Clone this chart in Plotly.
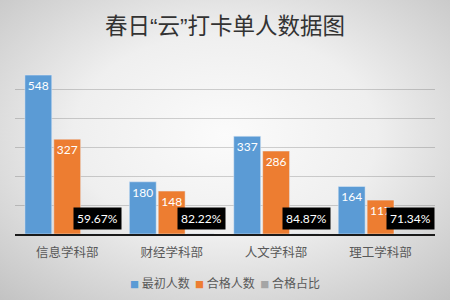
import base64
import plotly.graph_objects as go

# Data
departments = ["信息学科部", "财经学科部", "人文学科部", "理工学科部"]
initial_counts = [548, 180, 337, 164]
qualified_counts = [327, 148, 286, 117]
qualified_ratio = [0.5967, 0.8222, 0.8487, 0.7134]

series_names = ["最初人数", "合格人数", "合格占比"]
colors = ["#5b9bd5", "#ed7d31", "#a5a5a5"]

W, H = 450, 300
ML, MR, MT, MB = 15, 15, 60, 66
BARGAP, GROUPGAP = 0.17, 0.07

fig = go.Figure()
fig.add_bar(
    x=departments, y=initial_counts, name=series_names[0],
    marker_color=colors[0],
    text=[str(v) for v in initial_counts], textposition="inside",
    insidetextanchor="end", textangle=0,
    textfont=dict(color="white", size=12, family="Lato"),
)
fig.add_bar(
    x=departments, y=qualified_counts, name=series_names[1],
    marker_color=colors[1],
    text=[str(v) for v in qualified_counts], textposition="inside",
    insidetextanchor="end", textangle=0,
    textfont=dict(color="white", size=12, family="Lato"),
)
fig.add_bar(
    x=departments, y=qualified_ratio, name=series_names[2],
    marker_color=colors[2], hoverinfo="skip",
)

# Percentage labels in black boxes above the third bar of each group
slot = (1 - BARGAP) / 3
for i, r in enumerate(qualified_ratio):
    fig.add_annotation(
        x=i + slot + 0.01, y=r, xref="x", yref="y",
        text=f"{r * 100:.2f}%", showarrow=False,
        yanchor="bottom", yshift=4,
        font=dict(color="white", size=12, family="Lato"),
        bgcolor="black", borderpad=3,
    )

# Compact legend row: small coloured squares followed by series names
legend_html = "  ".join(
    f'<span style="color:{c};font-size:9px">■</span> {n}'
    for n, c in zip(series_names, colors)
)
fig.add_annotation(
    x=0.5, y=-(282 - (H - MB)) / (H - MT - MB), xref="paper", yref="paper",
    xanchor="center", yanchor="middle", showarrow=False,
    text=legend_html,
    font=dict(family="Noto Sans CJK SC", size=12, color="#595959"),
)

# Soft radial background
svg = (
    f'<svg xmlns="http://www.w3.org/2000/svg" width="{W}" height="{H}">'
    '<defs><radialGradient id="g" cx="50%" cy="45%" r="75%">'
    '<stop offset="0%" stop-color="#fbfbfb"/>'
    '<stop offset="45%" stop-color="#efefef"/>'
    '<stop offset="100%" stop-color="#c2c2c2"/>'
    '</radialGradient></defs>'
    f'<rect width="{W}" height="{H}" fill="url(#g)"/></svg>'
)
src = "data:image/svg+xml;base64," + base64.b64encode(svg.encode()).decode()
pw, ph = W - ML - MR, H - MT - MB
fig.add_layout_image(
    source=src, xref="paper", yref="paper",
    x=-ML / pw, y=1 + MT / ph, sizex=W / pw, sizey=H / ph,
    xanchor="left", yanchor="top", sizing="stretch", layer="below",
)

fig.update_layout(
    width=W, height=H,
    margin=dict(l=ML, r=MR, t=MT, b=MB, autoexpand=False),
    paper_bgcolor="#e4e4e4", plot_bgcolor="rgba(0,0,0,0)",
    barmode="group", bargap=BARGAP, bargroupgap=GROUPGAP,
    uniformtext=dict(minsize=12, mode="show"),
    showlegend=False,
    title=dict(
        text="春日“云”打卡单人数据图", x=0.5, xanchor="center",
        y=1 - 26 / H, yanchor="middle",
        font=dict(family="Liberation Sans, Noto Sans CJK SC", size=22.5,
                  color="#333333"),
    ),
    font=dict(family="Noto Sans CJK SC", color="#595959"),
    xaxis=dict(
        showline=True, linecolor="#1a1a1a", linewidth=1.5,
        ticks="", tickfont=dict(size=12.5, color="#595959"),
        ticklabelstandoff=6, fixedrange=True,
    ),
    yaxis=dict(
        range=[0, 600], dtick=100, showticklabels=False,
        showgrid=True, gridcolor="rgba(0,0,0,0.17)", gridwidth=1,
        zeroline=False, fixedrange=True,
    ),
)

fig.write_html("out.html")
